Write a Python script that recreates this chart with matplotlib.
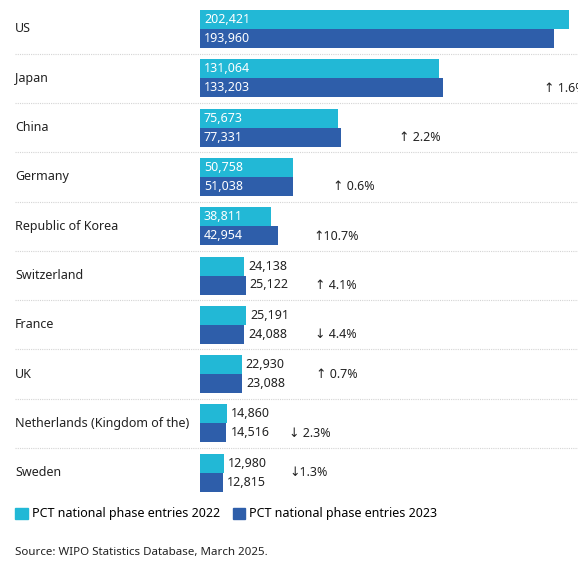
import numpy as np
import matplotlib
matplotlib.use("Agg")
import matplotlib.pyplot as plt
from matplotlib import transforms
from matplotlib.patches import Patch

countries = ["US", "Japan", "China", "Germany", "Republic of Korea", "Switzerland",
             "France", "UK", "Netherlands (Kingdom of the)", "Sweden"]
entries_2022 = [202421, 131064, 75673, 50758, 38811, 24138, 25191, 22930, 14860, 12980]
entries_2023 = [193960, 133203, 77331, 51038, 42954, 25122, 24088, 23088, 14516, 12815]

# layout: growth label x (figure px), None = off the picture; vertical nudge in rows
growth_x_px = [None, 544, 399, 333, 313, 315, 315, 316, 289, 289]
growth_dy = [0, 0.2, 0.2, 0.2, 0.2, 0.2, 0.2, 0, 0.2, 0]
growth_gap = ["", " ", " ", " ", "", " ", " ", " ", " ", ""]

C22 = "#22b8d6"
C23 = "#2e5eaa"
W, H = 578, 561
ROW = 49.3
TOP = 29

plt.rcParams["font.family"] = ["Noto Sans", "DejaVu Sans"]
plt.rcParams["font.size"] = 9

fig = plt.figure(figsize=(W / 100, H / 100), dpi=100)
ax = fig.add_axes([200 / W, 0, 378 / W, 1])
ax.set_axis_off()

xmax = max(entries_2022) * 378 / 369
ax.set_xlim(0, xmax)
ax.set_ylim((H - TOP) / ROW, -TOP / ROW)

y = np.arange(len(countries))
bh = 19 / ROW
ax.barh(y - bh / 2, entries_2022, height=bh, color=C22)
ax.barh(y + bh / 2, entries_2023, height=bh, color=C23)

inside_min = 30000
for i in range(len(countries)):
    for val, yy in ((entries_2022[i], y[i] - bh / 2), (entries_2023[i], y[i] + bh / 2)):
        lbl = f"{val:,}"
        if val >= inside_min:
            ax.annotate(lbl, (0, yy), xytext=(4, 0), textcoords="offset pixels",
                        va="center", ha="left", color="white", fontsize=9)
        else:
            ax.annotate(lbl, (val, yy), xytext=(4, 0), textcoords="offset pixels",
                        va="center", ha="left", color="#222222", fontsize=9)

blend = transforms.blended_transform_factory(fig.transFigure, ax.transData)
for i, name in enumerate(countries):
    ax.text(15 / W, y[i], name, transform=blend, va="center", ha="left",
            color="#222222", fontsize=9)

for i in range(len(countries) - 1):
    ax.plot([15 / W, 1], [y[i] + 0.5, y[i] + 0.5], transform=blend, color="#d4d4d4",
            lw=0.8, ls=(0, (1, 1)), clip_on=False)

for i in range(len(countries)):
    if growth_x_px[i] is None:
        continue
    pct = (entries_2023[i] - entries_2022[i]) / entries_2022[i] * 100
    arrow = "\u2191" if pct >= 0 else "\u2193"
    ax.text(growth_x_px[i] / W, y[i] + growth_dy[i], f"{arrow}{growth_gap[i]}{abs(pct):.1f}%",
            transform=blend, va="center", ha="left", color="#222222", fontsize=9,
            clip_on=False)

handles = [Patch(color=C22, label="PCT national phase entries 2022"),
           Patch(color=C23, label="PCT national phase entries 2023")]
fig.legend(handles=handles, loc="center left", bbox_to_anchor=(10 / W, 1 - 514 / H),
           ncol=2, frameon=False, handlelength=1.0, handleheight=1.0,
           handletextpad=0.35, columnspacing=1.0, borderaxespad=0, fontsize=9)

fig.text(15 / W, 1 - 553 / H, "Source: WIPO Statistics Database, March 2025.",
         va="center", ha="left", color="#222222", fontsize=8.3)

fig.savefig("out.png", dpi=100)
